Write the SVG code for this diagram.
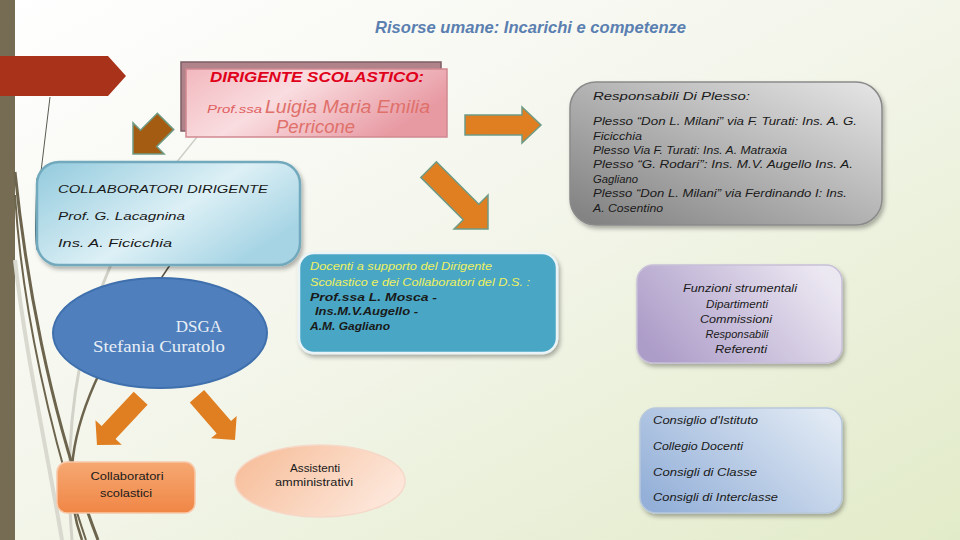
<svg xmlns="http://www.w3.org/2000/svg" width="960" height="540" viewBox="0 0 960 540">
<defs>
<linearGradient id="bg" x1="0" y1="0" x2="1" y2="1"><stop offset="0" stop-color="#ffffff"/><stop offset="0.45" stop-color="#f4f6ec"/><stop offset="1" stop-color="#e2ebc9"/></linearGradient>
<linearGradient id="pink" x1="0" y1="0" x2="1" y2="0.4"><stop offset="0" stop-color="#f2b8be"/><stop offset="0.45" stop-color="#f9dde0"/><stop offset="1" stop-color="#e89aa3"/></linearGradient>
<linearGradient id="lblue" x1="0" y1="0" x2="1" y2="0.6"><stop offset="0" stop-color="#92cadd"/><stop offset="0.6" stop-color="#ddf0f6"/><stop offset="1" stop-color="#a6d4e4"/></linearGradient>
<linearGradient id="gray" x1="0" y1="1" x2="1" y2="0"><stop offset="0" stop-color="#7e7e7e"/><stop offset="0.6" stop-color="#bdbdbd"/><stop offset="1" stop-color="#e6e6e6"/></linearGradient>
<linearGradient id="purple" x1="0" y1="0.7" x2="1" y2="0.3"><stop offset="0" stop-color="#ac9cc8"/><stop offset="1" stop-color="#ece8f2"/></linearGradient>
<linearGradient id="sblue" x1="0" y1="0.8" x2="1" y2="0.2"><stop offset="0" stop-color="#94b0d8"/><stop offset="1" stop-color="#e0e9f4"/></linearGradient>
<linearGradient id="orng" x1="0" y1="0" x2="0" y2="1"><stop offset="0" stop-color="#f6a872"/><stop offset="1" stop-color="#f08646"/></linearGradient>
<linearGradient id="peach" x1="0" y1="0.3" x2="1" y2="0.7"><stop offset="0" stop-color="#f7bf9c"/><stop offset="1" stop-color="#fde9de"/></linearGradient>
<filter id="sh" x="-10%" y="-10%" width="125%" height="130%"><feDropShadow dx="2" dy="3" stdDeviation="2" flood-color="#000" flood-opacity="0.3"/></filter>
</defs>
<style>
.t{font-family:"Liberation Sans","DejaVu Sans",sans-serif;font-style:italic;}
.k{fill:#1a1a1a;font-size:11.5px;}
.c{text-anchor:middle;}
.ao{fill:#e07f21;stroke:#6f9b85;stroke-width:1.5;}
.ab{fill:#a35c12;stroke:#6f9b85;stroke-width:1.5;}
.ad{fill:#e07f21;}
</style>
<rect width="960" height="540" fill="url(#bg)"/>
<rect x="0" y="0" width="15" height="540" fill="#756c53"/>
<g fill="none">
<path d="M15 260 C25 350 45 440 62 540" stroke="#d9d9d0" stroke-width="4"/>
<path d="M112 262 C82 330 62 420 72 540" stroke="#d2d2c8" stroke-width="3"/>
<path d="M15 172 C25 270 48 410 98 540" stroke="#6d644d" stroke-width="3"/>
<path d="M15 195 C22 310 52 440 86 540" stroke="#6d644d" stroke-width="2"/>
<path d="M100 372 C72 430 62 485 82 540" stroke="#6d644d" stroke-width="2.5"/>
<path d="M38 178 C36 230 36 240 38 250" stroke="#4e6e74" stroke-width="3"/>
</g>
<path d="M0 56 L108 56 L126 76 L108 96 L0 96 Z" fill="#a8321a"/>
<text x="375" y="33" class="t" font-weight="bold" font-size="17" fill="#5a7fb0" textLength="311" lengthAdjust="spacingAndGlyphs" font-family="'Open Sans',sans-serif">Risorse umane: Incarichi e competenze</text>
<g id="connectors">
<line x1="50" y1="97" x2="40" y2="180" stroke="#5a5a50" stroke-width="1"/>
<line x1="197" y1="137" x2="172" y2="168" stroke="#cfcfc8" stroke-width="1.5"/>
<line x1="170" y1="265" x2="160" y2="280" stroke="#5a5040" stroke-width="1.5"/>
<path class="ab" transform="translate(133,154) rotate(135)" d="M-46 -11.5 L-22 -11.5 L-22 -22 L0 0 L-22 22 L-22 11.5 L-46 11.5 Z"/>
<path class="ao" transform="translate(541,125)" d="M-76 -10 L-19 -10 L-19 -18 L0 0 L-19 18 L-19 10 L-76 10 Z"/>
<path class="ao" transform="translate(488,229) rotate(45)" d="M-84 -11 L-24 -11 L-24 -24 L0 0 L-24 24 L-24 11 L-84 11 Z"/>
<path class="ad" transform="translate(97,445) rotate(133)" d="M-64 -9.5 L-17 -9.5 L-17 -18 L0 0 L-17 18 L-17 9.5 L-64 9.5 Z"/>
<path class="ad" transform="translate(235,440) rotate(49)" d="M-58 -9.5 L-17 -9.5 L-17 -17 L0 0 L-17 17 L-17 9.5 L-58 9.5 Z"/>
</g>
<g id="dirigente">
<rect x="181" y="62" width="260" height="69" fill="#b0828a" stroke="#7e5e66" stroke-width="1.5"/>
<rect x="186" y="69" width="261" height="68" fill="url(#pink)" stroke="#d08890" stroke-width="1.5"/>
<text x="210" y="82" class="t" font-weight="bold" font-size="15.5" fill="#e0001a" textLength="214" lengthAdjust="spacingAndGlyphs">DIRIGENTE SCOLASTICO:</text>
<text x="207" y="113" class="t" font-size="11.5" fill="#e06060" textLength="55" lengthAdjust="spacingAndGlyphs">Prof.ssa</text>
<text x="265" y="113" class="t" font-size="18" fill="#e0706a" textLength="165" lengthAdjust="spacingAndGlyphs">Luigia  Maria Emilia</text>
<text x="276" y="133" class="t" font-size="18" fill="#e0706a" textLength="79" lengthAdjust="spacingAndGlyphs">Perricone</text>
</g>
<g id="collaboratori-dirigente">
<rect x="37" y="162" width="263" height="103" rx="22" fill="url(#lblue)" stroke="#72a9bd" stroke-width="2.5" filter="url(#sh)"/>
<text x="58" y="193" class="t k" font-size="15" textLength="210" lengthAdjust="spacingAndGlyphs">COLLABORATORI DIRIGENTE</text>
<text x="58" y="220" class="t k" font-size="15" textLength="127" lengthAdjust="spacingAndGlyphs">Prof. G. Lacagnina</text>
<text x="58" y="247" class="t k" font-size="15" textLength="114" lengthAdjust="spacingAndGlyphs">Ins. A. Ficicchia</text>
</g>
<g id="responsabili">
<rect x="570" y="82" width="312" height="143" rx="26" fill="url(#gray)" stroke="#8a8a8a" stroke-width="1.5" filter="url(#sh)"/>
<text x="593" y="100" class="t k" font-size="13" textLength="157" lengthAdjust="spacingAndGlyphs">Responsabili Di Plesso:</text>
<text x="593" y="125" class="t k" textLength="264" lengthAdjust="spacingAndGlyphs">Plesso “Don L. Milani” via F. Turati: Ins. A. G.</text>
<text x="593" y="140" class="t k" textLength="49" lengthAdjust="spacingAndGlyphs">Ficicchia</text>
<text x="593" y="154" class="t k" textLength="194" lengthAdjust="spacingAndGlyphs">Plesso Via F. Turati: Ins. A. Matraxia</text>
<text x="593" y="168" class="t k" textLength="260" lengthAdjust="spacingAndGlyphs">Plesso “G. Rodari”: Ins. M.V. Augello  Ins. A.</text>
<text x="593" y="183" class="t k" textLength="45" lengthAdjust="spacingAndGlyphs">Gagliano</text>
<text x="593" y="197" class="t k" textLength="254" lengthAdjust="spacingAndGlyphs">Plesso “Don L. Milani” via Ferdinando I: Ins.</text>
<text x="593" y="212" class="t k" textLength="70" lengthAdjust="spacingAndGlyphs">A. Cosentino</text>
</g>
<g id="docenti">
<rect x="299" y="253" width="258" height="100" rx="15" fill="#4aa7c5" stroke="#eaf4f6" stroke-width="2.5" filter="url(#sh)"/>
<text x="310" y="270" class="t" font-size="11.5" fill="#eef060" textLength="182" lengthAdjust="spacingAndGlyphs">Docenti a supporto del Dirigente</text>
<text x="310" y="286" class="t" font-size="11.5" fill="#eef060" textLength="220" lengthAdjust="spacingAndGlyphs">Scolastico e dei Collaboratori del D.S. :</text>
<text x="310" y="301" class="t k" font-weight="bold" font-size="11" textLength="127" lengthAdjust="spacingAndGlyphs">Prof.ssa L. Mosca -</text>
<text x="315" y="315" class="t k" font-weight="bold" font-size="11" textLength="103" lengthAdjust="spacingAndGlyphs">Ins.M.V.Augello -</text>
<text x="310" y="330" class="t k" font-weight="bold" font-size="11" textLength="80" lengthAdjust="spacingAndGlyphs">A.M. Gagliano</text>
</g>
<g id="funzioni">
<rect x="637" y="265" width="205" height="98" rx="16" fill="url(#purple)" stroke="#c8c0d8" stroke-width="1.5" filter="url(#sh)"/>
<text x="740" y="292" class="t k c" textLength="114" lengthAdjust="spacingAndGlyphs">Funzioni strumentali</text>
<text x="737" y="308" class="t k c" textLength="62" lengthAdjust="spacingAndGlyphs">Dipartimenti</text>
<text x="736" y="323" class="t k c" textLength="72" lengthAdjust="spacingAndGlyphs">Commissioni</text>
<text x="737" y="338" class="t k c" textLength="63" lengthAdjust="spacingAndGlyphs">Responsabili</text>
<text x="741" y="353" class="t k c" textLength="52" lengthAdjust="spacingAndGlyphs">Referenti</text>
</g>
<g id="consigli">
<rect x="640" y="408" width="202" height="105" rx="16" fill="url(#sblue)" stroke="#b8c8dc" stroke-width="1.5" filter="url(#sh)"/>
<text x="653" y="424" class="t k" textLength="105" lengthAdjust="spacingAndGlyphs">Consiglio d'Istituto</text>
<text x="653" y="450" class="t k" textLength="90" lengthAdjust="spacingAndGlyphs">Collegio Docenti</text>
<text x="653" y="476" class="t k" textLength="104" lengthAdjust="spacingAndGlyphs">Consigli di Classe</text>
<text x="653" y="501" class="t k" textLength="125" lengthAdjust="spacingAndGlyphs">Consigli di Interclasse</text>
</g>
<g id="dsga">
<ellipse cx="160" cy="333" rx="107" ry="55" fill="#4f80bd" stroke="#3f70ad" stroke-width="2"/>
<text x="199" y="332" font-family="'Liberation Serif',serif" font-size="17" fill="#e8eef6" text-anchor="middle">DSGA</text>
<text x="159" y="352" font-family="'Liberation Serif',serif" font-size="17" fill="#e8eef6" text-anchor="middle" textLength="132" lengthAdjust="spacingAndGlyphs">Stefania Curatolo</text>
</g>
<g id="collaboratori-scolastici">
<rect x="57" y="462" width="138" height="51" rx="10" fill="url(#orng)" stroke="#f8c8a8" stroke-width="1.5"/>
<text x="127" y="480" class="k c" font-family="'Liberation Sans',sans-serif" font-size="11.5" textLength="73" lengthAdjust="spacingAndGlyphs">Collaboratori</text>
<text x="126" y="497" class="k c" font-family="'Liberation Sans',sans-serif" font-size="11.5" textLength="52" lengthAdjust="spacingAndGlyphs">scolastici</text>
</g>
<g id="assistenti">
<ellipse cx="320" cy="481" rx="85" ry="36" fill="url(#peach)" stroke="#f6d8c8" stroke-width="1.5"/>
<text x="315" y="472" class="k c" font-family="'Liberation Sans',sans-serif" font-size="11.5" textLength="50" lengthAdjust="spacingAndGlyphs">Assistenti</text>
<text x="314" y="486" class="k c" font-family="'Liberation Sans',sans-serif" font-size="11.5" textLength="78" lengthAdjust="spacingAndGlyphs">amministrativi</text>
</g>
</svg>
